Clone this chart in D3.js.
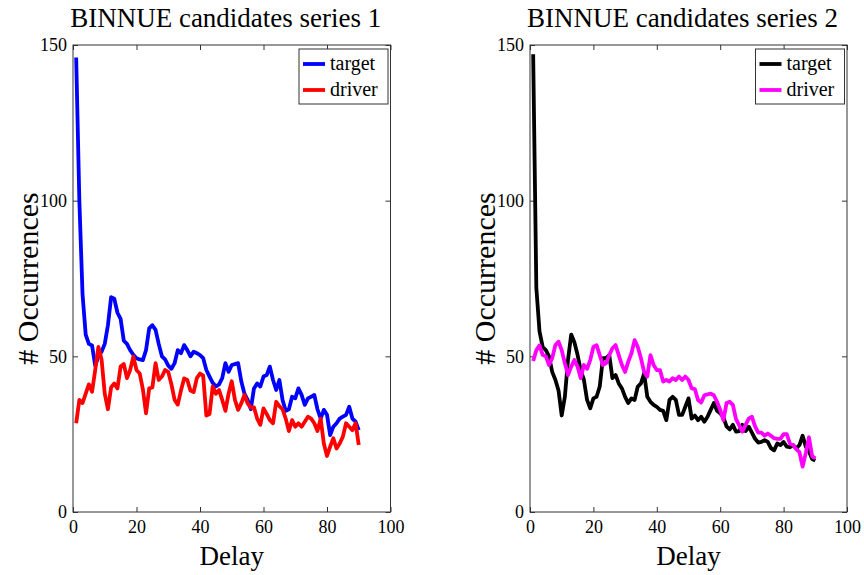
<!DOCTYPE html>
<html>
<head>
<meta charset="utf-8">
<script src="https://cdn.jsdelivr.net/npm/d3@7"></script>
<style>
  body { margin: 0; background: #fff; }
  text { font-family: "Liberation Serif", "DejaVu Serif", serif; fill: #000; }
</style>
</head>
<body>
<svg id="chart" width="864" height="575"></svg>
<script>
// Delay values (x) shared by all series
const delays = d3.range(1, 91);

// Series 1
const target1 = [146, 100, 70, 57, 54, 53.5, 47, 50, 51.5, 54,
  60, 69, 68.5, 64, 62, 55, 54, 52, 50.5, 49.4,
  49, 48.8, 52, 59, 60, 58.5, 54, 50, 49, 47,
  46, 47.8, 52, 51, 53.6, 52, 50, 51.5, 51, 50.4,
  49.4, 45.6, 43.5, 41.5, 40.3, 41, 43, 47.8, 45, 47.2,
  47.5, 47.8, 42, 38, 36, 33, 39.7, 41.3, 40.3, 43.5,
  44, 46.7, 42.4, 39.2, 42.4, 36, 32.5, 33, 37, 36.5,
  39.7, 37.6, 34.4, 36.5, 37, 37.6, 33, 30, 32.8, 31.2,
  24.7, 27.4, 28.5, 30, 30.6, 31.2, 33.8, 30, 29, 26.3];
const driver1 = [28.5, 36, 35, 38, 41, 38.6, 45.6, 53, 49, 38,
  33, 40, 41.3, 39.7, 46.7, 47.5, 43, 45.6, 49.9, 45.6,
  44.5, 39.5, 31.7, 39.7, 40, 47.8, 42.4, 43.5, 45.6, 45,
  41, 36, 34.5, 39, 42.9, 42.4, 39, 38.5, 43, 44.5,
  43.8, 31, 31.5, 40.3, 38, 39.2, 36, 32.5, 38, 42,
  36, 32.8, 34.9, 37.6, 34.9, 33.5, 33.6, 30, 28, 33.3,
  31.5, 29.5, 28.5, 35.4, 34, 33, 30, 26, 29.5, 27.4,
  28.5, 27.4, 29, 30.6, 30, 28.5, 26, 30, 22, 18,
  21, 23.7, 20.4, 22, 24.2, 28.5, 27.4, 26.3, 28.5, 21.5];

// Series 2
const target2 = [147, 72, 58, 53, 52, 50, 45, 42.5, 39, 31,
  37, 49, 57, 54.5, 50.5, 45.5, 42.5, 36, 33.3, 36.5,
  37, 40.3, 49.4, 49.4, 50.4, 43, 44, 41.3, 39.7, 37,
  35, 36.5, 36, 40.3, 41.3, 44.5, 37, 35.4, 34.4, 33.8,
  32.8, 32.5, 29.5, 36, 37, 36, 31.2, 31.2, 33.8, 36.5,
  30, 31, 29.5, 30.6, 29, 30.6, 32.8, 35, 32.5, 31.7,
  30.5, 27.5, 26.5, 28, 25.8, 26, 28, 26, 27.4, 25.5,
  23.5, 22.3, 22.5, 23.1, 22.5, 20.5, 19.8, 22, 21.5, 22.5,
  21, 20.8, 21.5, 20.4, 21.5, 24.5, 21, 19.4, 17, 16.5];
const driver2 = [48.5, 52, 53.5, 50.5, 50, 47.2, 49.4, 53.6, 54.7, 52,
  47.8, 44, 46.7, 48.8, 46.7, 43, 47.2, 46, 48.8, 53,
  53.6, 50.4, 47.2, 47.8, 50.4, 52.6, 53.6, 50.4, 47.2, 45,
  48.3, 51, 55.2, 53, 49.4, 45, 43.5, 50.4, 47.2, 45.6,
  45.6, 41.9, 42.4, 41.9, 43, 42.4, 43.5, 42.4, 43.5, 42.4,
  39.7, 39.5, 36, 35.2, 37.5, 37.8, 38, 37.5, 35.4, 32.8,
  29.5, 35, 35.4, 34.4, 29.8, 27.8, 25.8, 28, 30, 30.6,
  27.5, 25.5, 25.5, 24.5, 25.2, 24.5, 23.7, 23.5, 23.5, 25,
  25, 22, 21.5, 20.2, 19.2, 14.6, 19, 24, 18, 17.2];

const xTicks = [0, 20, 40, 60, 80, 100];
const yTicks = [0, 50, 100, 150];
const seriesNames = ["target", "driver"];

const panels = [
  { title: "BINNUE candidates series 1", left: 73, right: 390.5,
    values: [target1, driver1], colors: ["#0000ff", "#ff0000"] },
  { title: "BINNUE candidates series 2", left: 530, right: 847,
    values: [target2, driver2], colors: ["#000000", "#ff00ff"] }
];

const plotTop = 45, plotBottom = 512;
const svg = d3.select("#chart");
const axisColor = "#333";

panels.forEach(p => {
  const x = d3.scaleLinear().domain([0, 100]).range([p.left, p.right]);
  const y = d3.scaleLinear().domain([0, 150]).range([plotBottom, plotTop]);
  const g = svg.append("g");

  // inward ticks on all four sides
  const styleAxis = sel => {
    sel.select(".domain").remove();
    sel.selectAll(".tick line").attr("stroke", axisColor);
    sel.selectAll("text").style("font-size", "18px")
      .style("font-family", '"Liberation Serif", serif');
  };
  g.append("g").attr("transform", `translate(0,${plotBottom})`)
    .call(d3.axisBottom(x).tickValues(xTicks).tickSizeInner(-5).tickSizeOuter(0).tickPadding(8))
    .call(styleAxis);
  g.append("g").attr("transform", `translate(0,${plotTop})`)
    .call(d3.axisTop(x).tickValues(xTicks).tickSizeInner(-5).tickSizeOuter(0).tickFormat(""))
    .call(styleAxis);
  g.append("g").attr("transform", `translate(${p.left},0)`)
    .call(d3.axisLeft(y).tickValues(yTicks).tickSizeInner(-5).tickSizeOuter(0).tickPadding(6))
    .call(styleAxis);
  g.append("g").attr("transform", `translate(${p.right},0)`)
    .call(d3.axisRight(y).tickValues(yTicks).tickSizeInner(-5).tickSizeOuter(0).tickFormat(""))
    .call(styleAxis);

  g.append("rect")
    .attr("x", p.left).attr("y", plotTop)
    .attr("width", p.right - p.left).attr("height", plotBottom - plotTop)
    .attr("fill", "none").attr("stroke", axisColor).attr("stroke-width", 1);

  const line = d3.line().x((d, i) => x(delays[i])).y(d => y(d));
  p.values.forEach((vals, k) => {
    g.append("path").datum(vals)
      .attr("d", line)
      .attr("fill", "none")
      .attr("stroke", p.colors[k])
      .attr("stroke-width", 3.8)
      .attr("stroke-linejoin", "round");
  });

  // title and axis labels
  g.append("text")
    .attr("x", (p.left + p.right) / 2 - 6).attr("y", 27)
    .attr("text-anchor", "middle").style("font-size", "27px")
    .text(p.title);
  g.append("text")
    .attr("x", (p.left + p.right) / 2).attr("y", 565)
    .attr("text-anchor", "middle").style("font-size", "27px")
    .text("Delay");
  g.append("text")
    .attr("transform", `translate(${p.left - 35},${(plotTop + plotBottom) / 2}) rotate(-90)`)
    .attr("text-anchor", "middle").style("font-size", "30px")
    .text("# Occurrences");

  // legend
  const lx = p.right - 91.5, ly = 49;
  const lg = g.append("g").attr("transform", `translate(${lx},${ly})`);
  lg.append("rect").attr("width", 89).attr("height", 55)
    .attr("fill", "#fff").attr("stroke", axisColor).attr("stroke-width", 1);
  seriesNames.forEach((name, k) => {
    const yy = 15 + k * 26;
    lg.append("line").attr("x1", 4).attr("x2", 26).attr("y1", yy).attr("y2", yy)
      .attr("stroke", p.colors[k]).attr("stroke-width", 3.8);
    lg.append("text").attr("x", 31).attr("y", yy).attr("dy", "0.32em")
      .style("font-size", "20px").text(name);
  });
});
</script>
</body>
</html>
